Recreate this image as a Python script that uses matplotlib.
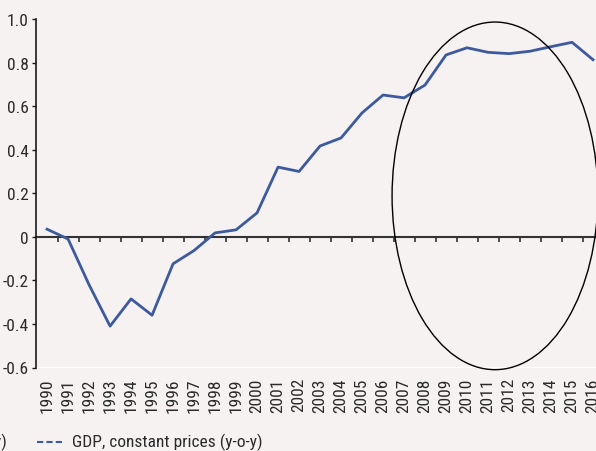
import matplotlib
matplotlib.use("Agg")
import matplotlib.pyplot as plt
from matplotlib.patches import Ellipse
from matplotlib.lines import Line2D
from matplotlib import font_manager

# ------------------------------------------------------------------
# Data
# ------------------------------------------------------------------
years = [str(y) for y in range(1990, 2017)]
gdp_growth = [0.035, -0.01, -0.22, -0.41, -0.285, -0.36, -0.124, -0.063, 0.018, 0.032,
              0.11, 0.32, 0.30, 0.417, 0.454, 0.569, 0.651, 0.638, 0.697, 0.835,
              0.868, 0.847, 0.841, 0.852, 0.873, 0.893, 0.813]
y_ticks = [-0.6, -0.4, -0.2, 0, 0.2, 0.4, 0.6, 0.8, 1.0]
y_tick_labels = ["-0.6", "-0.4", "-0.2", "0", "0.2", "0.4", "0.6", "0.8", "1.0"]
legend_label = "GDP, constant prices (y-o-y)"

# highlighted period (ellipse), in data units
ellipse_center = (21.33, 0.188)
ellipse_size = (9.8, 1.596)

# ------------------------------------------------------------------
# Styling
# ------------------------------------------------------------------
installed = {f.name for f in font_manager.fontManager.ttflist}
condensed = [n for n in ["Roboto Condensed", "Liberation Sans Narrow"] if n in installed]
plt.rcParams["font.family"] = condensed + ["Roboto", "DejaVu Sans"]
FS = 12.5 if condensed else 11

BG = "#f5f2f1"
LINE = "#3d5a9e"
TXT = "#2a2a2a"
W, H = 596, 452

fig = plt.figure(figsize=(W / 100, H / 100), dpi=100, facecolor=BG)

# axes in pixel geometry: 1990 at x=47, 21 px per year, y from 1.0 (20px) to -0.6 (368px)
x_left, x_right = -0.55, 26.5
px_per_year = 21.0
ax_left = 35.5
ax_width = (x_right - x_left) * px_per_year
ax_top, ax_bottom = 20.0, 368.5
ax = fig.add_axes([ax_left / W, 1 - ax_bottom / H, ax_width / W, (ax_bottom - ax_top) / H])
ax.set_facecolor(BG)

x = list(range(len(years)))
ax.plot(x, gdp_growth, color=LINE, linewidth=2.0, zorder=3, solid_joinstyle="round")

ax.set_xlim(x_left, x_right)
ax.set_ylim(-0.6, 1.0)

# spines: left axis, bottom spine moved to zero line
for s in ["top", "right"]:
    ax.spines[s].set_visible(False)
ax.spines["left"].set_color("#1a1a1a")
ax.spines["left"].set_linewidth(1.2)
ax.spines["bottom"].set_position(("data", 0))
ax.spines["bottom"].set_color("#333333")
ax.spines["bottom"].set_linewidth(1.5)
ax.spines["bottom"].set_zorder(2)

ax.set_yticks(y_ticks)
ax.set_yticklabels(y_tick_labels)
ax.tick_params(axis="y", direction="out", length=3, width=1, color="#1a1a1a",
               labelsize=FS, labelcolor=TXT, pad=2)

# ticks between categories on the zero line
ax.set_xticks([i + 0.5 for i in range(len(years) - 1)] + [len(years) - 0.5])
ax.tick_params(axis="x", direction="out", length=3.8, width=1.2, color="#333333",
               labelbottom=False)

# year labels along the bottom
sec = ax.secondary_xaxis("bottom")
sec.set_xticks(x)
sec.set_xticklabels(years, rotation=90)
sec.spines["bottom"].set_visible(False)
sec.tick_params(length=0, pad=7, labelsize=FS, labelcolor=TXT)

# highlight ellipse
ax.add_patch(Ellipse(ellipse_center, ellipse_size[0], ellipse_size[1], fill=False,
                     edgecolor="black", linewidth=1.0, zorder=4, clip_on=False))

# legend at the bottom (cropped entry on the left + GDP entry)
fig.text(8 / W, 1 - 442 / H, "(y-o-y)", ha="right", va="center", fontsize=FS,
         color=TXT)
fig.add_artist(Line2D([37 / W, 65 / W], [1 - 442.5 / H] * 2, color=LINE, linewidth=1.5,
                      linestyle=(0, (3, 1.5)), transform=fig.transFigure))
fig.text(72 / W, 1 - 442 / H, legend_label, ha="left", va="center", fontsize=FS,
         color=TXT)

plt.savefig("out.png", dpi=100, facecolor=BG)
